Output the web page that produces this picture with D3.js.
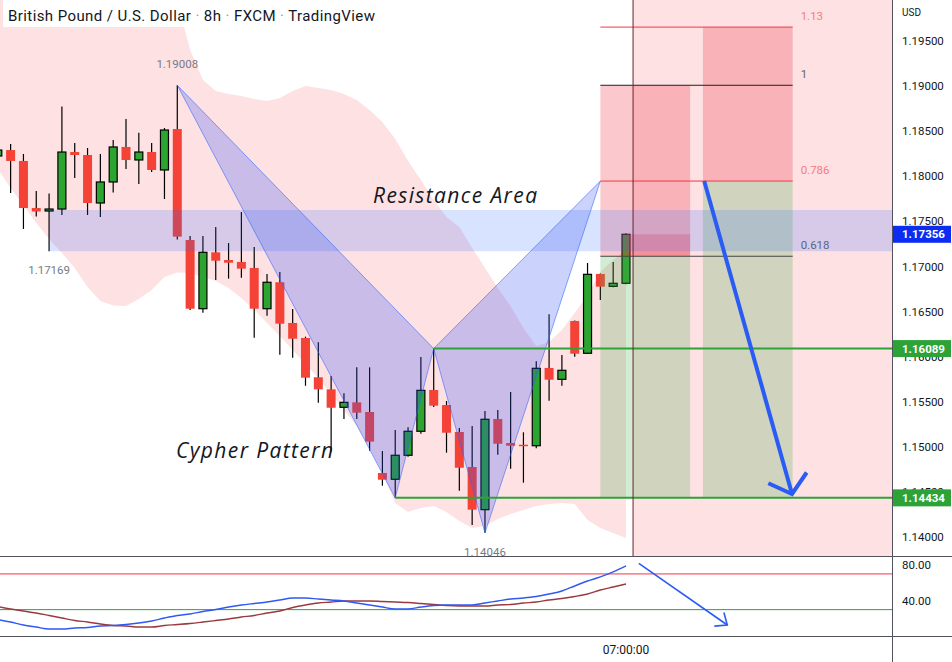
<!DOCTYPE html>
<html><head><meta charset="utf-8">
<script src="https://cdn.jsdelivr.net/npm/d3@7"></script>
<style>body{margin:0;background:#fff;} svg{display:block;font-family:Roboto,"Liberation Sans",sans-serif;}</style>
</head><body><svg id="c" width="952" height="662"></svg>
<script>
// ---------- DATA ----------
const opens  = [1.18224,1.18290,1.18169,1.17647,1.17614,1.17636,1.18268,1.18235,1.17703,1.17936,1.18324,1.18180,1.18268,1.18069,1.18523,1.17293,1.16531,1.17156,1.17071,1.17049,1.16982,1.16531,1.16824,1.16373,1.16206,1.15771,1.15637,1.15438,1.15493,1.15386,1.14710,1.14640,1.14906,1.15172,1.15630,1.15463,1.15164,1.14776,1.14303,1.15308,1.15042,1.15023,1.15012,1.15874,1.15748,1.16395,1.16037,1.16916,1.16779,1.16813];
const highs  = [1.18335,1.18357,1.18246,1.17836,1.17808,1.18773,1.18368,1.18313,1.18246,1.18401,1.18634,1.18483,1.18368,1.18534,1.19008,1.17337,1.17337,1.17437,1.17259,1.17603,1.17215,1.16916,1.16938,1.16528,1.16221,1.16159,1.15785,1.15593,1.15881,1.15881,1.14953,1.15186,1.15216,1.15996,1.16089,1.15508,1.15208,1.15231,1.15397,1.15408,1.15608,1.15161,1.15948,1.16469,1.16018,1.16400,1.17038,1.16920,1.17049,1.17367];
const lows   = [1.18180,1.17814,1.17415,1.17553,1.17169,1.17570,1.17980,1.17570,1.17548,1.17819,1.18080,1.17914,1.18047,1.17747,1.17299,1.16517,1.16487,1.16849,1.16864,1.16875,1.16210,1.16453,1.16021,1.15988,1.15677,1.15489,1.14946,1.15308,1.15308,1.14957,1.14569,1.14434,1.14890,1.15145,1.15440,1.14935,1.14513,1.14133,1.14046,1.14912,1.14757,1.14602,1.14983,1.15511,1.15677,1.15999,1.16030,1.16627,1.16768,1.16802];
const closes = [1.18290,1.18169,1.17647,1.17609,1.17636,1.18268,1.18235,1.17703,1.17936,1.18324,1.18180,1.18268,1.18069,1.18512,1.17330,1.16531,1.17156,1.17063,1.17041,1.16975,1.16531,1.16824,1.16365,1.16198,1.15766,1.15637,1.15433,1.15493,1.15378,1.15057,1.14635,1.14906,1.15172,1.15626,1.15456,1.15156,1.14768,1.14303,1.15305,1.15034,1.15012,1.15012,1.15870,1.15744,1.15848,1.16032,1.16912,1.16775,1.16813,1.17356];

// envelope cloud (upper / lower edge per bar)
const cloudUpper = [1.20840,1.20785,1.20729,1.20674,1.20618,1.20563,1.20508,1.20452,1.20397,1.20341,1.20264,1.20175,1.20108,1.20020,1.19953,1.19399,1.19066,1.18944,1.18911,1.18889,1.18856,1.18834,1.18867,1.18944,1.19000,1.18978,1.18956,1.18911,1.18845,1.18734,1.18601,1.18412,1.18168,1.17958,1.17736,1.17548,1.17437,1.17204,1.16982,1.16760,1.16561,1.16317,1.16117,1.16162,1.16295,1.16483,1.16683,1.16938,1.17071,1.17182];
const cloudLower = [1.18080,1.17869,1.17681,1.17481,1.17304,1.17148,1.16982,1.16772,1.16616,1.16566,1.16561,1.16638,1.16738,1.16882,1.16932,1.16927,1.16882,1.16838,1.16760,1.16650,1.16517,1.16372,1.16228,1.16073,1.15918,1.15763,1.15585,1.15408,1.15231,1.14987,1.14698,1.14377,1.14277,1.14321,1.14344,1.14277,1.14177,1.14100,1.14122,1.14200,1.14255,1.14299,1.14344,1.14366,1.14377,1.14366,1.14188,1.14100,1.14044,1.13989];

// oscillator (two lines)
const oscFast = [18.9,16.1,12.8,10.5,8.3,8.3,9.4,10.0,11.7,12.2,13.3,15.0,17.3,20.6,23.4,25.1,27.9,30.1,32.9,35.2,36.9,38.5,40.8,43.0,43.0,41.9,40.8,39.7,37.4,35.2,32.9,30.7,30.7,32.9,34.6,35.2,35.2,35.2,37.4,39.7,41.9,43.0,44.7,47.5,50.9,56.5,62.1,66.6,72.2,78.9];
const oscSlow = [33.5,30.7,28.5,26.2,23.4,20.6,17.8,16.1,13.9,12.2,11.7,10.5,10.5,12.2,13.3,14.5,16.1,17.8,19.5,21.7,23.4,26.2,28.5,32.4,35.2,37.4,38.5,39.7,39.7,39.7,39.1,38.5,38.0,36.9,35.7,34.6,34.1,34.1,34.1,35.2,35.7,37.4,38.5,40.8,42.5,44.7,47.5,52.0,55.4,58.7];
const oscBands = [70, 30];
const oscTicks = [80, 40];

// cypher pattern points X, A, B, C, D  (bar index, price)
const patIdx   = [14, 31, 34, 38, 47];
const patPrice = [1.19008, 1.14434, 1.16089, 1.14046, 1.17946];

// fibonacci levels measured from C (1.14046) to X (1.19008)
const fibRatios = [1.13, 1, 0.786, 0.618];
const fibLabels = ["1.13", "1", "0.786", "0.618"];

const priceTicks = [1.195,1.19,1.185,1.18,1.175,1.17,1.165,1.16,1.155,1.15,1.145,1.14];
const resistance = [1.17169, 1.17625];
const lastPrice = 1.17356;
const timeLabel = "07:00:00";
const crossIdx = 49.55;

// ---------- SETUP ----------
const svg = d3.select("#c");
const plotR = 892, mainB = 557, oscB = 637;
const x = d3.scaleLinear().domain([0, 49]).range([-2.2, 626]);
const y = d3.scaleLinear().domain([1.14, 1.195]).range([537, 40.9]);
const yo = d3.scaleLinear().domain([40, 80]).range([600.7, 565]);

const defs = svg.append("defs");
defs.append("clipPath").attr("id","mainClip").append("rect").attr("x",0).attr("y",0).attr("width",plotR).attr("height",mainB);
defs.append("clipPath").attr("id","oscClip").append("rect").attr("x",0).attr("y",mainB).attr("width",plotR).attr("height",oscB-mainB);

svg.append("rect").attr("width",952).attr("height",662).attr("fill","#fff");
const g = svg.append("g").attr("clip-path","url(#mainClip)");

const RED = "rgba(242,54,69,0.15)";
// future region
g.append("rect").attr("x", x(crossIdx)).attr("y",0).attr("width", plotR - x(crossIdx)).attr("height", mainB).attr("fill", RED);

// cloud
const idx = d3.range(opens.length);
g.append("path").datum(idx)
  .attr("d", d3.area().x(i=>x(i)).y0(i=>y(cloudLower[i])).y1(i=>y(cloudUpper[i])))
  .attr("fill", RED);

// candles
const bw = 9;
const cg = g.append("g");
idx.forEach(i=>{
  const up = closes[i] >= opens[i];
  cg.append("line").attr("x1",x(i)).attr("x2",x(i)).attr("y1",y(highs[i])).attr("y2",y(lows[i]))
    .attr("stroke","#000").attr("stroke-width",1.2);
  const top = y(Math.max(opens[i],closes[i])), bot = y(Math.min(opens[i],closes[i]));
  const h = Math.max(bot-top, 1.5);
  if (up) {
    cg.append("rect").attr("x",x(i)-bw/2+0.5).attr("y",top).attr("width",bw-1).attr("height",h)
      .attr("fill","#2ba52f").attr("stroke","#000").attr("stroke-width",1.2);
  } else {
    cg.append("rect").attr("x",x(i)-bw/2).attr("y",top).attr("width",bw).attr("height",h)
      .attr("fill","#f44336");
  }
});

// fib levels
const C = patPrice[3], X = patPrice[0];
const fibP = fibRatios.map(r => C + r*(X - C));
const fx0 = 47, fx1 = 62;
const rRed = "rgba(242,54,69,0.27)", rGreen = "rgba(76,175,80,0.25)";
const pos = [
  {a:47, b:54, p1:fibP[1], p2:fibP[3], c:rRed},
  {a:49, b:54, p1:lastPrice, p2:fibP[3], c:rRed},
  {a:47, b:54, p1:fibP[3], p2:patPrice[1], c:rGreen},
  {a:55, b:62, p1:fibP[0], p2:fibP[2], c:rRed},
  {a:55, b:62, p1:fibP[2], p2:patPrice[1], c:rGreen}
];
pos.forEach(r=>{
  g.append("rect").attr("x",x(r.a)).attr("width",x(r.b)-x(r.a))
   .attr("y",y(r.p1)).attr("height",y(r.p2)-y(r.p1)).attr("fill",r.c);
});
const fibLineCol = ["#f23645","#222","#f23645","#444"];
const fibTextCol = ["#f77c80","#666","#f77c80","#666"];
fibP.forEach((p,k)=>{
  g.append("line").attr("x1",x(fx0)).attr("x2",x(fx1)).attr("y1",y(p)).attr("y2",y(p))
    .attr("stroke",fibLineCol[k]).attr("stroke-width",1);
  g.append("text").attr("x",x(fx1)+8).attr("y",y(p)-7).text(fibLabels[k])
    .attr("font-size",11.5).attr("fill",fibTextCol[k]);
});

// resistance band
g.append("rect").attr("x",x(4)).attr("width",plotR-x(4))
  .attr("y",y(resistance[1])).attr("height",y(resistance[0])-y(resistance[1]))
  .attr("fill","rgba(41,98,255,0.18)");

// cypher triangles
const pt = k => [x(patIdx[k]), y(patPrice[k])];
[[0,1,2],[2,3,4]].forEach(t=>{
  g.append("path").attr("d", d3.line()(t.map(pt)) + "Z")
    .attr("fill","rgba(49,80,246,0.25)").attr("stroke","rgba(41,98,255,0.55)").attr("stroke-width",1);
});

// green horizontal levels from A and B
[[1],[2]].forEach(([k])=>{
  g.append("line").attr("x1",x(patIdx[k])).attr("x2",plotR).attr("y1",y(patPrice[k])).attr("y2",y(patPrice[k]))
    .attr("stroke","#2da337").attr("stroke-width",2);
});

// crosshair
g.append("line").attr("x1",x(crossIdx)).attr("x2",x(crossIdx)).attr("y1",0).attr("y2",mainB)
  .attr("stroke","#6d1f2c").attr("stroke-width",1);

function arrow(parent, x1,y1,x2,y2,len,angDeg,w,col){
  const a = Math.atan2(y1-y2, x1-x2), an = angDeg*Math.PI/180;
  parent.append("line").attr("x1",x1).attr("y1",y1).attr("x2",x2).attr("y2",y2)
    .attr("stroke",col).attr("stroke-width",w);
  parent.append("path").attr("d", d3.line()([[x2+len*Math.cos(a+an), y2+len*Math.sin(a+an)],[x2,y2],[x2+len*Math.cos(a-an), y2+len*Math.sin(a-an)]]))
    .attr("fill","none").attr("stroke",col).attr("stroke-width",w).attr("stroke-linejoin","miter");
}
const mainArrowIdx = [55.1, 61.95], mainArrowP = [fibP[2], 1.14477];
arrow(g, x(mainArrowIdx[0]), y(mainArrowP[0]), x(mainArrowIdx[1]), y(mainArrowP[1]), 26, 50, 4, "#2a5cf5");

// labels on pattern
const lab = (t,xx,yy)=> g.append("text").attr("x",xx).attr("y",yy).attr("text-anchor","middle")
   .attr("font-size",11.5).attr("fill","#787b86").text(t);
lab("1.19008", x(14), y(1.19008)-17);
lab("1.17169", x(4), y(1.17169)+23);
lab("1.14046", x(38), y(1.14046)+23);

g.append("text").attr("x",373).attr("y",203).attr("font-family","'Open Sans'").attr("font-style","italic")
  .attr("font-size",21).attr("fill","#131722").attr("textLength",164).attr("lengthAdjust","spacing").text("Resistance Area");
g.append("text").attr("x",176).attr("y",458).attr("font-family","'Open Sans'").attr("font-style","italic")
  .attr("font-size",21).attr("fill","#131722").attr("textLength",157).attr("lengthAdjust","spacing").text("Cypher Pattern");

// title
svg.append("rect").attr("x",3).attr("y",0).attr("width",375).attr("height",27).attr("fill","#fff");
const tt = svg.append("text").attr("x",8).attr("y",21).attr("font-size",15).attr("fill","#131722")
  .attr("textLength",367).attr("lengthAdjust","spacing");
const parts = ["British Pound / U.S. Dollar"," · ","8h"," · ","FXCM"," · ","TradingView"];
parts.forEach((p,k)=> tt.append("tspan").attr("fill", k%2 ? "#9598a1" : "#131722").text(p));

// ---------- OSCILLATOR ----------
const og = svg.append("g").attr("clip-path","url(#oscClip)");
og.append("line").attr("x1",0).attr("x2",plotR).attr("y1",yo(oscBands[0])).attr("y2",yo(oscBands[0])).attr("stroke","#f23645").attr("stroke-width",1);
og.append("line").attr("x1",0).attr("x2",plotR).attr("y1",yo(oscBands[1])).attr("y2",yo(oscBands[1])).attr("stroke","#22a838").attr("stroke-width",1);
og.append("path").datum(idx).attr("d", d3.line().x(i=>x(i)).y(i=>yo(oscSlow[i])).curve(d3.curveMonotoneX))
  .attr("fill","none").attr("stroke","#983a3f").attr("stroke-width",1.4);
og.append("path").datum(idx).attr("d", d3.line().x(i=>x(i)).y(i=>yo(oscFast[i])).curve(d3.curveMonotoneX))
  .attr("fill","none").attr("stroke","#3158f0").attr("stroke-width",1.4);
const oscArrowIdx = [50.0, 56.9], oscArrowV = [81.9, 12.8];
arrow(og, x(oscArrowIdx[0]), yo(oscArrowV[0]), x(oscArrowIdx[1]), yo(oscArrowV[1]), 13, 40, 1.6, "#2a5cf5");

// ---------- AXES ----------
const ax = svg.append("g").attr("transform",`translate(${plotR},0)`)
  .call(d3.axisRight(y).tickValues(priceTicks).tickSize(0).tickPadding(10).tickFormat(d3.format(".5f")));
ax.select(".domain").remove();
ax.selectAll("text").attr("font-size",11.5).attr("fill","#131722").attr("font-family","Roboto");

const oax = svg.append("g").attr("transform",`translate(${plotR},0)`)
  .call(d3.axisRight(yo).tickValues(oscTicks).tickSize(0).tickPadding(10).tickFormat(d3.format(".2f")));
oax.select(".domain").remove();
oax.selectAll("text").attr("font-size",11.5).attr("fill","#131722").attr("font-family","Roboto");

svg.append("text").attr("x",902).attr("y",16).attr("font-size",10).attr("fill","#131722").text("USD");

// price labels
function tag(p, col){
  svg.append("rect").attr("x",plotR).attr("y",y(p)-8.5).attr("width",59).attr("height",17).attr("fill",col);
  svg.append("text").attr("x",plotR+10).attr("y",y(p)+4).attr("font-size",11.5).attr("font-weight","bold")
    .attr("fill","#fff").text(d3.format(".5f")(p));
}
tag(lastPrice, "#0d2cf2");
tag(patPrice[2], "#2da337");
tag(patPrice[1], "#2da337");

// time label
svg.append("text").attr("x",x(49)).attr("y",654).attr("text-anchor","middle").attr("font-size",12).attr("fill","#131722").text(timeLabel);

// frame lines
svg.append("line").attr("x1",plotR+0.5).attr("x2",plotR+0.5).attr("y1",0).attr("y2",662).attr("stroke","#50535e");
svg.append("line").attr("x1",0).attr("x2",952).attr("y1",mainB-0.5).attr("y2",mainB-0.5).attr("stroke","#50535e");
svg.append("line").attr("x1",0).attr("x2",952).attr("y1",oscB-0.5).attr("y2",oscB-0.5).attr("stroke","#50535e");
</script></body></html>
